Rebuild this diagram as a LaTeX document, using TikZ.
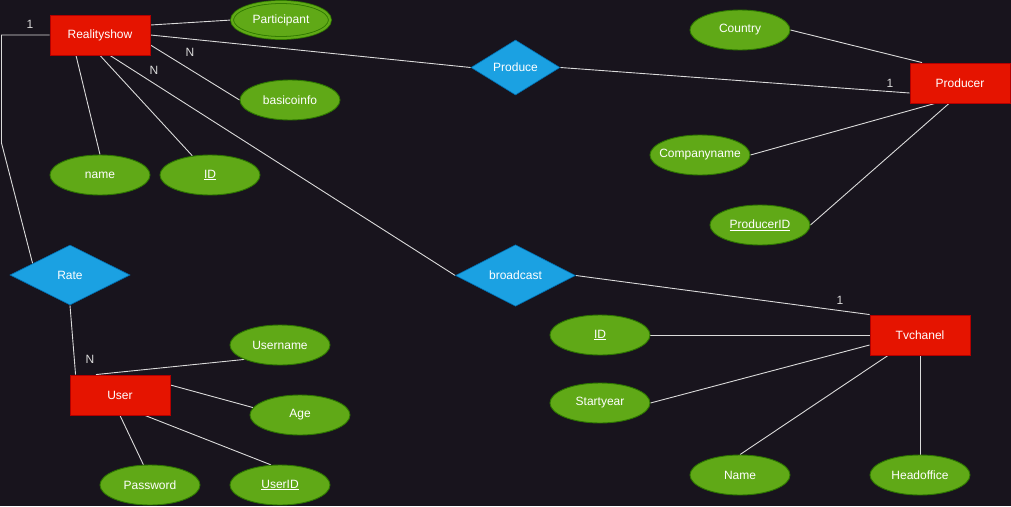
\documentclass[tikz,border=0pt]{standalone}
\usepackage{fontspec}
\setmainfont{Liberation Sans}
\usetikzlibrary{shapes.geometric,calc}

\definecolor{bgdark}{RGB}{24,20,29}
\definecolor{entfill}{HTML}{E51400}
\definecolor{entline}{HTML}{B20000}
\definecolor{attfill}{HTML}{60A917}
\definecolor{attline}{HTML}{2D7600}
\definecolor{relfill}{HTML}{1BA1E2}
\definecolor{relline}{HTML}{006EAF}
\definecolor{linkcol}{HTML}{DADADA}

\pgfdeclarelayer{canvas}
\pgfdeclarelayer{links}
\pgfsetlayers{canvas,links,main}

% a label of zero width, so that long names keep the ellipse at its set size
\newcommand{\slimlabel}[1]{\makebox[0pt]{#1}}

\tikzset{
  base/.style={font=\fontsize{12pt}{14pt}\selectfont, text=white, inner sep=0pt},
  entity/.style={base, rectangle, fill=entfill, draw=entline, line width=0.9pt,
                 minimum width=100pt, minimum height=40pt},
  attrib/.style={base, ellipse, fill=attfill, draw=attline, line width=0.9pt,
                 minimum width=100pt, minimum height=40pt},
  multiattr/.style={attrib, double=attfill, double distance=2.2pt, line width=0.8pt,
                 minimum width=98pt, minimum height=36pt},
  relation/.style={base, diamond, fill=relfill, draw=relline, line width=0.6pt,
                 minimum width=120pt, minimum height=60pt},
  link/.style={draw=linkcol, line width=0.9pt},
  card/.style={font=\fontsize{12pt}{14pt}\selectfont, text=linkcol, inner sep=0pt}
}

\begin{document}
\begin{tikzpicture}[x=1pt,y=-1pt]
  \useasboundingbox (0,0) rectangle (1011,506);
  \begin{pgfonlayer}{canvas}
    \fill[bgdark] (0,0) rectangle (1011,506);
  \end{pgfonlayer}

  % entities
  \node[entity] (rs)   at (100,35)  {Realityshow};
  \node[entity] (prod) at (960,83)  {Producer};
  \node[entity] (user) at (120,395) {User};
  \node[entity] (tv)   at (920,335) {Tvchanel};

  % relationships
  \node[relation, minimum width=89pt, minimum height=55pt] (produce) at (515.5,67.5) {Produce};
  \node[relation] (rate) at (70,275)  {Rate};
  \node[relation] (bc)   at (515.5,275.5) {broadcast};

  % attributes of Realityshow
  \node[multiattr] (part)  at (281,20)  {\slimlabel{Participant}};
  \node[attrib]    (basic) at (290,100) {basicoinfo};
  \node[attrib]    (name)  at (100,175) {name};
  \node[attrib]    (id1)   at (210,175) {\underline{ID}};

  % attributes of Producer
  \node[attrib] (country) at (740,30)  {Country};
  \node[attrib] (comp)    at (700,155) {\slimlabel{Companyname}};
  \node[attrib] (pid)     at (760,225) {\slimlabel{\underline{ProducerID}}};

  % attributes of User
  \node[attrib] (uname) at (280,345) {Username};
  \node[attrib] (age)   at (300,415) {Age};
  \node[attrib] (pw)    at (150,485) {Password};
  \node[attrib] (uid)   at (280,485) {\underline{UserID}};

  % attributes of Tvchanel
  \node[attrib] (id2) at (600,335) {\underline{ID}};
  \node[attrib] (sy)  at (600,403) {Startyear};
  \node[attrib] (nm2) at (740,475) {Name};
  \node[attrib] (ho)  at (920,475) {\slimlabel{Headoffice}};

  % bends of the Realityshow--Rate connector
  \coordinate (rk1) at (1.5,35);
  \coordinate (rk2) at (1.5,143);

  % connectors, kept behind the shapes
  \begin{pgfonlayer}{links}
    % Realityshow
    \draw[link] ([yshift=10pt]rs.east) -- (part.west);
    \draw[link] (rs.east) -- (produce.west);
    \draw[link] ([yshift=-10pt]rs.east) -- (basic.west);
    \draw[link] ([xshift=10pt]rs.south) -- (bc.west);
    \draw[link] (rs.south) -- (id1);
    \draw[link] ([xshift=-24pt]rs.south) -- (name.north);
    \draw[link] (rs.west) -- (rk1) -- (rk2) -- ($(rate.west)!0.38!(rate.north)$);
    % User
    \draw[link] (rate.south) -- ([xshift=6pt]user.north west);
    \draw[link] ([xshift=-24pt]user.north) -- (uname.202);
    \draw[link] ([yshift=10pt]user.east) -- (age.171);
    \draw[link] (user.south) -- (pw.108);
    \draw[link] ([xshift=25pt]user.south) -- (uid.114);
    % Producer
    \draw[link] (produce.east) -- ([yshift=-10pt]prod.west);
    \draw[link] ([xshift=-38pt]prod.north) -- (country.east);
    \draw[link] ([xshift=-25pt]prod.south) -- (comp.east);
    \draw[link] ([xshift=-11pt]prod.south) -- (pid.east);
    % Tvchanel
    \draw[link] (bc.east) -- (tv.north west);
    \draw[link] (tv.west) -- (id2.east);
    \draw[link] ([yshift=-10pt]tv.west) -- (sy.east);
    \draw[link] ([xshift=-32pt]tv.south) -- (nm2.north);
    \draw[link] (tv.south) -- (ho.north);
  \end{pgfonlayer}

  % cardinalities
  \node[card] (c1) at (30,24)  {1};
  \node[card] (c2) at (190,52) {N};
  \node[card] (c3) at (154,70) {N};
  \node[card] (c4) at (90,359) {N};
  \node[card] (c5) at (890,83) {1};
  \node[card] (c6) at (840,300) {1};
\end{tikzpicture}
\end{document}
